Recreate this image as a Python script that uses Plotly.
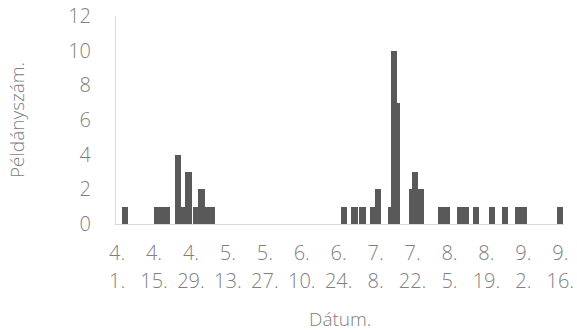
import datetime as dt
import plotly.graph_objects as go

# ---- data ----
year = 2019
start_date = "04-01"
# dates (month-day) with observed specimen counts
dates = ["04-04", "04-16", "04-18", "04-20", "04-24", "04-26", "04-28",
         "05-01", "05-03", "05-05", "05-07",
         "06-26", "06-30", "07-03", "07-07", "07-09",
         "07-14", "07-15", "07-16", "07-22", "07-23", "07-25",
         "08-02", "08-04", "08-09", "08-11", "08-15", "08-21", "08-26",
         "08-31", "09-02", "09-16"]
counts = [1, 1, 1, 1, 4, 1, 3,
          1, 2, 1, 1,
          1, 1, 1, 1, 2,
          1, 10, 7, 2, 3, 2,
          1, 1, 1, 1, 1, 1, 1,
          1, 1, 1]
tick_dates = ["04-01", "04-15", "04-29", "05-13", "05-27", "06-10", "06-24",
              "07-08", "07-22", "08-05", "08-19", "09-02", "09-16"]
tick_month = ["4.", "4.", "4.", "5.", "5.", "6.", "6.", "7.", "7.", "8.", "8.", "9.", "9."]
tick_day = ["1.", "15.", "29.", "13.", "27.", "10.", "24.", "8.", "22.", "5.", "19.", "2.", "16."]
y_ticks = [0, 2, 4, 6, 8, 10, 12]


def day_index(md):
    d0 = dt.date.fromisoformat(f"{year}-{start_date}")
    d = dt.date.fromisoformat(f"{year}-{md}")
    return (d - d0).days


xs = [day_index(d) for d in dates]
tx = [day_index(d) for d in tick_dates]

# draw taller bars on top of shorter ones
order = sorted(range(len(xs)), key=lambda i: counts[i])
xs_o = [xs[i] for i in order]
ys_o = [counts[i] for i in order]

FONT = "Open Sans"
TXT = "#808080"
LINE = "#d9d9d9"
x_range = [-0.42, 169.4]

fig = go.Figure()
fig.add_trace(go.Bar(x=xs_o, y=ys_o, width=2.4,
                     marker=dict(color="#595959", line=dict(width=0)),
                     showlegend=False, hoverinfo="skip"))
fig.add_trace(go.Scatter(x=[tx[0]], y=[None], xaxis="x2", mode="markers",
                         showlegend=False, hoverinfo="skip"))

fig.update_layout(
    width=577, height=332,
    margin=dict(l=116, r=13, t=16, b=108),
    paper_bgcolor="white", plot_bgcolor="white",
    font=dict(family=FONT, size=20, color=TXT, weight=300),
    bargap=0,
    xaxis=dict(range=x_range, tickmode="array", tickvals=tx, ticktext=tick_month,
               showline=True, linecolor=LINE, linewidth=1, showgrid=False,
               zeroline=False, ticks="", ticklabelstandoff=11, automargin=False,
               tickfont=dict(family=FONT, size=20, color=TXT, weight=300)),
    xaxis2=dict(range=x_range, overlaying="x", anchor="y", side="bottom",
                tickmode="array", tickvals=tx, ticktext=tick_day,
                showline=False, showgrid=False, zeroline=False, ticks="",
                ticklabelstandoff=43, automargin=False,
                tickfont=dict(family=FONT, size=20, color=TXT, weight=300)),
    yaxis=dict(range=[0, 12], tickmode="array", tickvals=y_ticks,
               showline=True, linecolor=LINE, linewidth=1, showgrid=False,
               zeroline=False, ticks="", ticklabelstandoff=20, automargin=False,
               tickfont=dict(family=FONT, size=20, color=TXT, weight=300)),
    annotations=[
        dict(text="Dátum.", xref="paper", yref="paper", x=0.5, y=0,
             yshift=-95, xanchor="center", yanchor="middle", showarrow=False,
             font=dict(family=FONT, size=19, color=TXT, weight=300)),
        dict(text="Példányszám.", xref="paper", yref="paper", x=0, y=0.5,
             xshift=-99, textangle=-90, xanchor="center", yanchor="middle",
             showarrow=False,
             font=dict(family=FONT, size=19, color=TXT, weight=300)),
    ],
)

fig.write_html("out.html", config={"displayModeBar": False},
               post_script="document.body.style.margin='0';document.body.style.overflow='hidden';")
